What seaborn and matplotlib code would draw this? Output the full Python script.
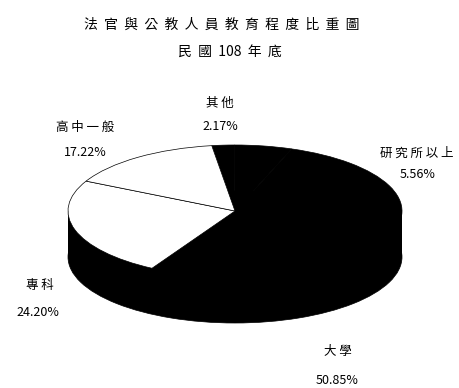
import matplotlib
matplotlib.use("Agg")
import matplotlib.pyplot as plt
import seaborn as sns

# labels are barely legible in the source, best reading
title_lines = ["法  官  與  公  教  人  員  教  育  程  度  比  重  圖", "民  國  108  年  底"]
categories = ["其他", "研究所以上", "大學", "專科", "高中一般"]
pct_labels = ["2.17%", "5.56%", "50.85%", "24.20%", "17.22%"]
shares = [2.17, 5.56, 52.77, 24.2, 15.3]
slice_colors = ["black", "black", "black", "white", "white"]

W, H = 459, 388
CX, CY, RX, RY = 235, 211, 167, 66
DEPTH = 46 / RY

sns.set_theme(style="white")
plt.rcParams["font.family"] = ["Noto Sans CJK TC", "DejaVu Sans"]

fig = plt.figure(figsize=(W / 100, H / 100), dpi=100, facecolor="white")
ax = fig.add_axes([0, 0, 1, 1])

# side wall of the pie, then the top face
ax.pie([1], colors=["black"], center=(0, -DEPTH), radius=1, wedgeprops={"edgecolor": "black", "linewidth": 0.5})
ax.bar(0, DEPTH, width=2, bottom=-DEPTH, color="black", edgecolor="black", linewidth=0)
ax.pie(
    shares,
    colors=slice_colors,
    startangle=98,
    counterclock=False,
    radius=1,
    wedgeprops={"edgecolor": "black", "linewidth": 0.5},
)

ax.set_aspect("auto")
ax.set_xlim(-CX / RX, (W - CX) / RX)
ax.set_ylim((CY - H) / RY, CY / RY)
ax.axis("off")


def put(px, py, s, size=9):
    fig.text(px / W, 1 - py / H, s, ha="center", va="center", fontsize=size, color="black")


put(222, 25, title_lines[0], 10)
put(230, 52, title_lines[1], 10)

label_xy = {
    "其他": (220, 103, 220, 127),
    "研究所以上": (417, 153, 418, 175),
    "大學": (338, 352, 337, 380),
    "專科": (40, 285, 38, 312),
    "高中一般": (85, 127, 85, 153),
}
for name, pct in zip(categories, pct_labels):
    x1, y1, x2, y2 = label_xy[name]
    put(x1, y1, " ".join(name))
    put(x2, y2, pct)

fig.savefig("out.png", dpi=100, facecolor="white")
